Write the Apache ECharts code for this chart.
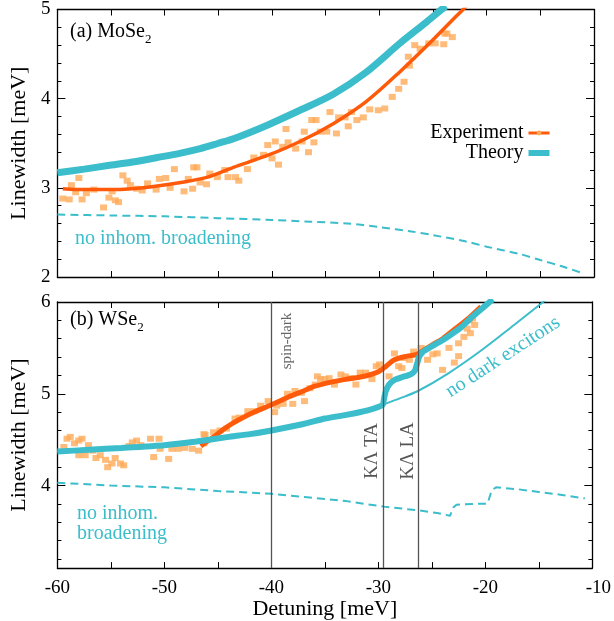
<!DOCTYPE html>
<html><head><meta charset="utf-8">
<script src="https://cdn.jsdelivr.net/npm/echarts@6/dist/echarts.min.js"></script>
<style>html,body{margin:0;padding:0;background:#fff}#c{width:614px;height:621px}</style>
</head><body><div id="c"></div>
<script>
// ---------- data ----------
const xTickLabels = [-60, -50, -40, -30, -20, -10];
const topYTicks = [2, 3, 4, 5];
const botYTicks = [4, 5, 6];
const botYMinor = [3.2, 3.4, 3.6, 3.8, 4.2, 4.4, 4.6, 4.8, 5.2, 5.4, 5.6, 5.8];
const darkLines = [-40, -29.5, -26.3];

// (a) MoSe2 measured linewidths
const topExp = [
  [-59.5,2.88],[-58.9,2.87],[-58.7,3.03],[-58.0,3.11],[-58.3,2.95],[-57.7,2.87],[-57.3,2.94],[-56.6,2.98],
  [-55.7,2.78],[-55.2,2.89],[-54.9,2.96],[-54.6,2.86],[-54.3,2.84],[-53.9,3.14],[-53.5,3.08],[-53.2,3.03],
  [-52.6,2.99],[-52.1,2.97],[-51.6,3.05],[-50.8,2.98],[-50.5,3.10],[-49.9,3.11],[-49.5,3.00],[-49.1,3.21],
  [-48.2,2.96],[-47.8,3.10],[-47.4,2.99],[-47.3,3.23],[-47.0,3.23],[-46.7,3.06],[-46.1,3.04],[-45.8,3.16],
  [-45.1,3.12],[-44.4,3.20],[-44.1,3.12],[-43.4,3.12],[-43.1,3.08],[-42.3,3.21],[-41.7,3.34],[-40.8,3.37],
  [-40.0,3.33],[-39.4,3.26],[-40.4,3.48],[-39.7,3.52],[-39.0,3.46],[-38.5,3.51],[-37.8,3.44],[-37.2,3.52],
  [-36.6,3.40],[-38.7,3.66],[-37.0,3.63],[-35.9,3.76],[-35.5,3.63],[-34.9,3.63],[-34.6,3.85],[-36.3,3.76],
  [-36.1,3.51],[-34.0,3.61],[-33.8,3.79],[-33.2,3.79],[-32.9,3.69],[-32.6,3.85],[-32.1,3.76],[-31.5,3.79],
  [-30.9,3.88],[-30.1,3.87],[-29.5,3.89],[-28.8,4.02],[-28.2,4.11],[-27.7,4.19],[-27.2,4.37],[-27.3,4.47],
  [-26.7,4.60],[-26.2,4.56],[-25.4,4.62],[-24.8,4.62],[-24.0,4.61],[-23.7,4.73],[-23.2,4.69],[-23.9,4.73]
];
const topFit = [
  [-59.5,2.99],[-57.5,2.98],[-55.3,2.98],[-53,2.99],[-50.7,3.02],[-48.5,3.06],[-46,3.12],[-43.6,3.23],
  [-40.5,3.36],[-37.4,3.52],[-34.3,3.72],[-31.2,3.97],[-28.1,4.30],[-25.0,4.66],[-22.8,4.93],[-22.2,5.0],[-21.8,5.05]
];
const topTheory = [
  [-60,3.17],[-57.5,3.21],[-55.3,3.25],[-53,3.29],[-50.7,3.34],[-48.5,3.39],[-46.7,3.44],[-45,3.50],
  [-43.6,3.55],[-40.5,3.70],[-37.4,3.87],[-34.3,4.05],[-31.2,4.30],[-28.1,4.62],[-25.6,4.86],[-24.2,5.0],[-23.8,5.04]
];
const topNoInhom = [
  [-60,2.70],[-55,2.69],[-50,2.68],[-45,2.66],[-40,2.64],[-36.4,2.62],[-33,2.60],[-30,2.56],[-27,2.51],
  [-25,2.47],[-22,2.40],[-20,2.34],[-17,2.26],[-15,2.19],[-13,2.12],[-11,2.04]
];

// (b) WSe2 measured linewidths
const botExp = [
  [-59.4,4.42],[-59.1,4.51],[-58.8,4.53],[-58.4,4.46],[-58.0,4.49],[-57.7,4.51],[-57.1,4.44],[-56.7,4.38],
  [-58.0,4.33],[-57.4,4.33],[-56.4,4.30],[-56.0,4.33],[-55.5,4.28],[-55.3,4.20],[-54.9,4.24],[-54.6,4.30],
  [-54.1,4.24],[-53.8,4.22],[-53.3,4.43],[-53.0,4.47],[-52.6,4.49],[-52.2,4.44],[-51.3,4.51],[-51.0,4.31],
  [-50.5,4.51],[-50.4,4.40],[-49.6,4.29],[-49.3,4.40],[-48.7,4.40],[-48.1,4.41],[-47.4,4.40],[-46.8,4.38],
  [-46.3,4.56],[-46.3,4.46],[-46.2,4.55],[-45.4,4.58],[-44.8,4.60],[-44.2,4.62],[-43.4,4.73],[-43.0,4.74],
  [-42.2,4.81],[-41.6,4.81],[-41.0,4.87],[-40.3,4.92],[-39.7,4.80],[-39.5,4.87],[-38.9,4.89],[-38.5,5.00],
  [-38.0,4.89],[-37.8,5.03],[-37.2,5.01],[-36.9,4.92],[-36.4,5.06],[-35.9,5.10],[-35.4,5.16],[-35.7,5.19],
  [-35.0,5.16],[-34.6,5.17],[-34.1,5.10],[-33.5,5.21],[-33.1,5.19],[-32.6,5.17],[-32.1,5.10],[-31.7,5.23],
  [-31.2,5.23],[-30.6,5.16],[-30.2,5.30],[-29.9,5.32],[-29.0,5.19],[-28.5,5.44],[-28.1,5.30],[-27.8,5.28],
  [-27.6,5.39],[-27.1,5.37],[-26.7,5.46],[-26.0,5.50],[-25.4,5.37],[-24.9,5.43],[-24.5,5.44],[-24.0,5.26],
  [-23.4,5.50],[-22.9,5.34],[-22.5,5.41],[-22.5,5.55],[-22.0,5.62],[-21.7,5.71],[-21.4,5.66],[-21.5,5.80],
  [-21.0,5.75],[-21.2,5.82]
];
const botFit = [
  [-46.6,4.43],[-45.5,4.52],[-44.5,4.61],[-43.6,4.68],[-42,4.78],[-40,4.88],[-38.5,4.96],[-37,5.03],
  [-36,5.08],[-34.3,5.13],[-32.9,5.16],[-31.8,5.18],[-30.7,5.21],[-30.0,5.24],[-29.5,5.28],[-28.5,5.37],
  [-27.3,5.41],[-26.4,5.43],[-25.7,5.48],[-25,5.53],[-24,5.60],[-22.9,5.70],[-21.5,5.83],[-20.4,5.95]
];
const botTheory = [
  [-60,4.37],[-57,4.39],[-54,4.41],[-50,4.44],[-47,4.48],[-44,4.53],[-42,4.56],[-40,4.60],[-37,4.67],
  [-35,4.73],[-33,4.77],[-31,4.82],[-29.6,4.88],[-29.45,4.96],[-29.3,5.03],[-29.0,5.10],[-28.5,5.15],
  [-27.8,5.18],[-27.0,5.21],[-26.6,5.25],[-26.4,5.32],[-26.2,5.40],[-25.9,5.45],[-25.4,5.49],[-24.8,5.53],
  [-24.2,5.57],[-23.4,5.63],[-22.3,5.72],[-21.3,5.83],[-20.5,5.91],[-19.6,6.0],[-19.3,6.03]
];
const botNoDark = [
  [-60,4.37],[-50,4.44],[-40,4.60],[-35,4.73],[-31,4.82],[-29.6,4.88],[-28,4.95],[-26.3,5.03],
  [-23.5,5.22],[-20.3,5.48],[-17.2,5.76],[-14.6,6.0],[-14.3,6.03]
];
const botNoInhom = [
  [-60,4.03],[-55,4.00],[-50,3.98],[-45,3.94],[-40,3.91],[-36.4,3.87],[-33,3.83],[-29.5,3.77],[-26.3,3.73],
  [-24.5,3.70],[-23.3,3.67],[-23.0,3.76],[-22.7,3.79],[-21,3.80],[-19.8,3.80],[-19.4,3.95],[-19.0,3.98],
  [-17,3.96],[-15,3.93],[-13,3.90],[-10.7,3.86]
];

// ---------- style ----------
const FONT = "'Liberation Serif', 'Times New Roman', serif";
const CYAN = '#3bbdcb';
const FIT = '#ff5a0a';
const DOT = '#ffaa58';
const GRAY = '#555';

const chart = echarts.init(document.getElementById('c'), null, {renderer: 'canvas'});

function xAxis(grid, pos, labels) {
  return {
    type: 'value', gridIndex: grid, position: pos, min: -60, max: -10, interval: 5,
    splitLine: {show: false},
    axisLine: {show: true, onZero: false, lineStyle: {color: '#000', width: 1.3}},
    axisTick: {show: true, inside: true, length: 6, lineStyle: {color: '#000', width: 1}},
    axisLabel: labels ? {
      show: true, margin: 10, color: '#000', fontFamily: FONT, fontSize: 19,
      formatter: v => xTickLabels.indexOf(v) < 0 ? '' : (v === -10 ? '{e|' + v + '}' : String(v)),
      rich: {e: {fontFamily: FONT, fontSize: 19, color: '#000', padding: [0, 0, 0, 12]}}
    } : {show: false},
    name: labels ? 'Detuning [meV]' : '',
    nameLocation: 'middle', nameGap: 27,
    nameTextStyle: {fontFamily: FONT, fontSize: 22, color: '#000'}
  };
}

function yAxisMain(grid, pos, min, max, ticks, labels, name) {
  return {
    type: 'value', gridIndex: grid, position: pos, min: min, max: max,
    splitLine: {show: false},
    axisLine: {show: true, onZero: false, lineStyle: {color: '#000', width: 1.3}},
    axisTick: {show: true, inside: true, length: 8, customValues: ticks, lineStyle: {color: '#000'}},
    axisLabel: labels ? {show: true, customValues: ticks, margin: 7, color: '#000', fontFamily: FONT, fontSize: 19} : {show: false},
    name: name || '', nameLocation: 'middle', nameGap: 25, nameRotate: 90,
    nameTextStyle: {fontFamily: FONT, fontSize: 22, color: '#000'}
  };
}
function yAxisMinor(grid, pos, min, max, ticks) {
  return {
    type: 'value', gridIndex: grid, position: pos, min: min, max: max,
    splitLine: {show: false},
    axisLine: {show: false, onZero: false},
    axisTick: {show: true, inside: true, length: 4, customValues: ticks, lineStyle: {color: '#000'}},
    axisLabel: {show: false}
  };
}
const topMinor = [];
for (let i = 0; i < topYTicks.length - 1; i++) {
  for (let k = 1; k < 5; k++) topMinor.push(+(topYTicks[i] + k * 0.2).toFixed(2));
}

function line(name, data, xi, yi, color, width, opts) {
  return Object.assign({
    type: 'line', name: name, data: data, xAxisIndex: xi, yAxisIndex: yi,
    showSymbol: false, symbol: 'none', smooth: 0.3, clip: true,
    lineStyle: {color: color, width: width}, itemStyle: {color: color},
    emphasis: {disabled: true}, silent: true
  }, opts || {});
}

const option = {
  animation: false,
  backgroundColor: '#fff',
  grid: [
    {left: 57, right: 20, top: 9, height: 268},
    {left: 57, right: 20, top: 302, height: 269}
  ],
  xAxis: [xAxis(0, 'bottom', false), xAxis(0, 'top', false), xAxis(1, 'bottom', true), xAxis(1, 'top', false)],
  yAxis: [
    yAxisMain(0, 'left', 2, 5, topYTicks, true, 'Linewidth [meV]'),
    yAxisMain(0, 'right', 2, 5, topYTicks, false),
    yAxisMinor(0, 'left', 2, 5, topMinor),
    yAxisMinor(0, 'right', 2, 5, topMinor),
    yAxisMain(1, 'left', 3.1, 6, botYTicks, true, 'Linewidth [meV]'),
    yAxisMain(1, 'right', 3.1, 6, botYTicks, false),
    yAxisMinor(1, 'left', 3.1, 6, botYMinor),
    yAxisMinor(1, 'right', 3.1, 6, botYMinor)
  ],
  legend: {
    show: true, orient: 'vertical', right: 58, top: 118, align: 'right',
    itemWidth: 21, itemHeight: 6, itemGap: 0,
    textStyle: {fontFamily: FONT, fontSize: 20, color: '#000'},
    selectedMode: false,
    data: [
      {name: 'Experiment', itemStyle: {color: DOT}, lineStyle: {color: FIT, width: 3}},
      {name: 'Theory', icon: 'rect', itemStyle: {color: CYAN}}
    ]
  },
  series: [
    // panel (a)
    {type: 'scatter', name: 'exp a', data: topExp, xAxisIndex: 0, yAxisIndex: 0,
     symbol: 'rect', symbolSize: [7, 6], itemStyle: {color: DOT}, silent: true, z: 1},
    line('Experiment', topFit, 0, 0, FIT, 3.5, {symbol: 'circle', itemStyle: {color: DOT}, z: 2}),
    line('Theory', topTheory, 0, 0, CYAN, 7, {z: 3}),
    line('no inhom a', topNoInhom, 0, 0, CYAN, 2, {lineStyle: {color: CYAN, width: 2, type: [8, 5]}, z: 3}),
    // panel (b)
    {type: 'scatter', name: 'exp b', data: botExp, xAxisIndex: 2, yAxisIndex: 4,
     symbol: 'rect', symbolSize: [7, 6], itemStyle: {color: DOT}, silent: true, z: 1,
     markLine: {silent: true, symbol: ['none', 'none'], label: {show: false},
       lineStyle: {color: GRAY, width: 1.3, type: 'solid'},
       data: darkLines.map(v => ({xAxis: v})), z: 6}},
    line('fit b', botFit, 2, 4, FIT, 5, {z: 2}),
    line('no dark', botNoDark, 2, 4, CYAN, 2, {z: 3}),
    line('theory b', botTheory, 2, 4, CYAN, 6, {smooth: 0.15, z: 4}),
    line('no inhom b', botNoInhom, 2, 4, CYAN, 2, {smooth: false, lineStyle: {color: CYAN, width: 2, type: [8, 5]}, z: 3})
  ],
  graphic: [
    {type: 'text', left: 70, top: 22, style: {
      text: '{a|(a) MoSe}{s|2}', rich: {
        a: {fontFamily: FONT, fontSize: 20, fill: '#000', lineHeight: 22},
        s: {fontFamily: FONT, fontSize: 13, fill: '#000', lineHeight: 13, verticalAlign: 'bottom', padding: [0, 0, -3, 0]}}}},
    {type: 'text', left: 75, top: 229, style: {text: 'no inhom. broadening', fontFamily: FONT, fontSize: 20, fill: CYAN}},
    {type: 'text', left: 70, top: 310, style: {
      text: '{a|(b) WSe}{s|2}', rich: {
        a: {fontFamily: FONT, fontSize: 20, fill: '#000', lineHeight: 22},
        s: {fontFamily: FONT, fontSize: 13, fill: '#000', lineHeight: 13, verticalAlign: 'bottom', padding: [0, 0, -3, 0]}}}},
    {type: 'text', left: 77, top: 504, style: {text: 'no inhom.', fontFamily: FONT, fontSize: 20, fill: CYAN}},
    {type: 'text', left: 77, top: 524, style: {text: 'broadening', fontFamily: FONT, fontSize: 20, fill: CYAN}},
    {type: 'text', x: 287.5, y: 341, rotation: Math.PI / 2, style: {text: 'spin-dark', fontFamily: FONT, fontSize: 15, fill: '#666', align: 'center', verticalAlign: 'middle'}},
    {type: 'text', x: 372.5, y: 451, rotation: Math.PI / 2, style: {text: 'KΛ TA', fontFamily: FONT, fontSize: 19, fill: GRAY, align: 'center', verticalAlign: 'middle'}},
    {type: 'text', x: 408.5, y: 451, rotation: Math.PI / 2, style: {text: 'KΛ LA', fontFamily: FONT, fontSize: 19, fill: GRAY, align: 'center', verticalAlign: 'middle'}},
    {type: 'text', x: 503, y: 357, rotation: 33.2 * Math.PI / 180, style: {text: 'no dark excitons', fontFamily: FONT, fontSize: 20, fill: CYAN, align: 'center', verticalAlign: 'middle'}}
  ]
};
chart.setOption(option);
</script>
</body></html>
